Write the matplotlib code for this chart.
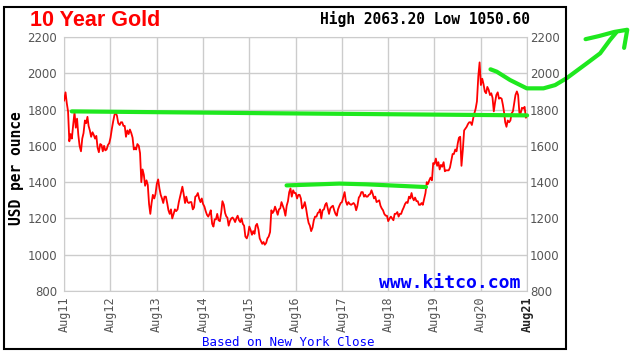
import matplotlib
matplotlib.use('Agg')
import matplotlib.pyplot as plt
import pandas as pd
from matplotlib.patches import Rectangle

gold_2011 = [1850, 1895, 1835, 1790, 1625, 1665, 1640, 1720, 1785, 1700, 1750, 1660, 1600]
gold_2012 = [1570, 1640, 1670, 1740, 1725, 1760, 1710, 1685, 1650, 1675, 1660, 1640,
             1655, 1590, 1565, 1610, 1605, 1570, 1600, 1575, 1580, 1605, 1615, 1645,
             1695, 1735, 1770, 1785, 1765, 1725, 1715, 1730, 1730, 1710, 1710, 1650]
gold_2013 = [1685, 1665, 1690, 1670, 1645, 1580, 1590, 1580, 1610, 1600, 1560, 1400,
             1470, 1440, 1380, 1410, 1385, 1280, 1225, 1285, 1330, 1310, 1335, 1390,
             1415, 1365, 1330, 1310, 1285, 1320, 1320, 1285, 1245, 1225, 1250, 1200]
gold_2014 = [1225, 1250, 1240, 1250, 1290, 1320, 1345, 1375, 1335, 1285, 1320, 1290,
             1285, 1290, 1290, 1250, 1260, 1320, 1325, 1340, 1310, 1290, 1310, 1280,
             1265, 1240, 1220, 1210, 1225, 1245, 1170, 1155, 1195, 1195, 1225, 1190]
gold_2015 = [1185, 1230, 1295, 1275, 1230, 1210, 1205, 1160, 1185, 1200, 1205, 1195,
             1180, 1200, 1215, 1190, 1180, 1200, 1170, 1160, 1100, 1090, 1110, 1155,
             1135, 1110, 1130, 1115, 1160, 1170, 1140, 1090, 1075, 1060, 1070, 1055]
gold_2016 = [1065, 1090, 1100, 1125, 1245, 1230, 1240, 1265, 1245, 1220, 1250, 1255,
             1290, 1270, 1250, 1215, 1270, 1295, 1345, 1365, 1320, 1355, 1340, 1340,
             1310, 1330, 1330, 1310, 1255, 1265, 1290, 1255, 1210, 1175, 1160, 1130]
gold_2017 = [1150, 1190, 1210, 1210, 1230, 1235, 1250, 1200, 1245, 1250, 1275, 1285,
             1255, 1225, 1255, 1265, 1270, 1245, 1225, 1215, 1250, 1270, 1285, 1290,
             1320, 1345, 1295, 1275, 1290, 1280, 1275, 1280, 1285, 1275, 1245, 1270]
gold_2018 = [1315, 1325, 1345, 1345, 1320, 1330, 1320, 1320, 1330, 1335, 1355, 1335,
             1310, 1320, 1290, 1295, 1300, 1270, 1255, 1245, 1225, 1215, 1215, 1185,
             1200, 1210, 1200, 1190, 1225, 1225, 1235, 1210, 1225, 1225, 1245, 1260]
gold_2019 = [1280, 1290, 1285, 1320, 1310, 1340, 1315, 1300, 1315, 1295, 1295, 1275,
             1275, 1285, 1275, 1310, 1340, 1400, 1390, 1410, 1425, 1410, 1505, 1500,
             1530, 1490, 1510, 1470, 1495, 1485, 1510, 1460, 1465, 1465, 1465, 1480]
gold_2020 = [1520, 1555, 1555, 1580, 1570, 1615, 1645, 1650, 1490, 1580, 1685, 1695,
             1705, 1720, 1730, 1730, 1715, 1750, 1780, 1805, 1845, 1985, 2060, 1935,
             1970, 1940, 1900, 1890, 1925, 1910, 1880, 1890, 1865, 1790, 1840, 1880]
gold_2021 = [1895, 1860, 1865, 1860, 1825, 1780, 1730, 1705, 1740, 1730, 1740, 1780,
             1790, 1835, 1880, 1900, 1880, 1780, 1780, 1810, 1805, 1815, 1755, 1765]

prices = (gold_2011 + gold_2012 + gold_2013 + gold_2014 + gold_2015 + gold_2016
          + gold_2017 + gold_2018 + gold_2019 + gold_2020 + gold_2021)

days = pd.date_range('2011-08-01', '2021-08-31', freq='D')
dates = days[days.day.isin([1, 11, 21])]
dates = dates[(dates >= '2011-08-21') & (dates <= '2021-08-21')][:len(prices)]

tick_years = list(range(2011, 2022))
tick_labels = ['Aug%02d' % (y % 100) for y in tick_years]

# hand-drawn green marks on top of the chart
green_long_x = ['2011-10-20', '2016-01-01', '2021-08-21']
green_long_y = [1790, 1780, 1768]
green_mid_x = ['2016-06-10', '2017-08-01', '2018-03-01', '2019-06-15']
green_mid_y = [1382, 1392, 1388, 1373]
green_curve_x = ['2020-11-05', '2020-12-24', '2021-04-08', '2021-08-18', '2021-12-28',
                 '2022-03-30', '2022-07-01', '2022-12-05', '2023-03-20', '2023-06-05',
                 '2023-07-25']
green_curve_y = [2022, 2009, 1963, 1917, 1917, 1935, 1974, 2055, 2110, 2183, 2225]
green_head_x = ['2022-11-25', '2023-03-10', '2023-07-10', '2023-10-20', '2023-09-25']
green_head_y = [2188, 2205, 2228, 2240, 2140]

fig = plt.figure(figsize=(6.32, 3.55), dpi=100)
W, H = 632, 355

ax = fig.add_axes([64 / W, 1 - 291 / H, 463 / W, 254 / H])
ax.plot(dates, prices, color='#ff0000', lw=1.3, zorder=3)

ax.set_xlim(pd.Timestamp('2011-08-20'), pd.Timestamp('2021-08-20'))
ax.set_ylim(800, 2200)
yticks = list(range(800, 2201, 200))
ax.set_yticks(yticks)
ax.set_xticks([pd.Timestamp('%d-08-20' % y) for y in tick_years])
ax.set_xticklabels(tick_labels, rotation=90, family='DejaVu Sans Mono',
                   fontsize=8.5, color='#555555')
ax.get_xticklabels()[-1].set_fontweight('bold')
ax.get_xticklabels()[-1].set_color('#222222')
for lab in ax.get_yticklabels():
    lab.set_family('DejaVu Sans')
    lab.set_fontsize(8.5)
    lab.set_color('#555555')
ax.tick_params(length=0, axis='y', pad=5)
ax.tick_params(length=0, axis='x', pad=4)
ax.grid(color='#cccccc', lw=1)
for s in ax.spines.values():
    s.set_color('#cccccc')

ax2 = ax.twinx()
ax2.set_ylim(800, 2200)
ax2.set_yticks(yticks)
for lab in ax2.get_yticklabels():
    lab.set_family('DejaVu Sans')
    lab.set_fontsize(8.5)
    lab.set_color('#555555')
ax2.tick_params(length=0, pad=2)
for s in ax2.spines.values():
    s.set_visible(False)

# green scribbles
green = '#1ee81e'
for gx, gy in [(green_long_x, green_long_y), (green_mid_x, green_mid_y),
               (green_curve_x, green_curve_y), (green_head_x, green_head_y)]:
    ax.plot(pd.to_datetime(gx), gy, color=green, lw=3, clip_on=False,
            solid_capstyle='round', solid_joinstyle='round', zorder=5)

# frame and texts
fig.patches.append(Rectangle((4 / W, 1 - 349 / H), 562 / W, 342 / H,
                             transform=fig.transFigure, fill=False,
                             edgecolor='black', lw=1.5))
fig.text(30 / W, 1 - 20 / H, '10 Year Gold', color='#ff0000', fontsize=15.5,
         fontweight='bold', family='Liberation Sans', va='center')
fig.text(530 / W, 1 - 19 / H, 'High 2063.20 Low 1050.60', fontsize=10.5,
         fontweight='bold', family='DejaVu Sans Mono', ha='right', va='center')
fig.text(17 / W, 1 - 168 / H, 'USD per ounce', rotation=90, fontsize=10.5,
         fontweight='bold', family='DejaVu Sans Mono', ha='center', va='center')
fig.text(520 / W, 1 - 283 / H, 'www.kitco.com', color='#0000ff', fontsize=13,
         fontweight='bold', family='DejaVu Sans Mono', ha='right', va='center')
fig.text(288 / W, 1 - 342 / H, 'Based on New York Close', color='#0000ff',
         fontsize=9, family='DejaVu Sans Mono', ha='center', va='center')

fig.savefig('out.png', dpi=100)
